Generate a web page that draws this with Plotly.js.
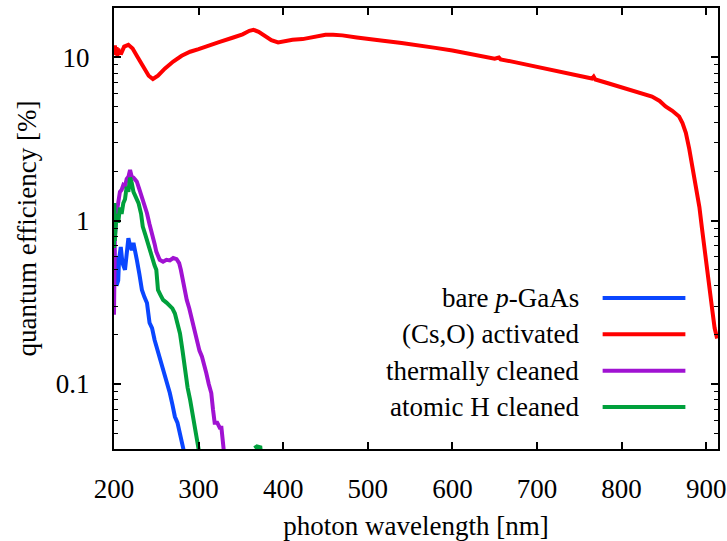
<!DOCTYPE html>
<html>
<head>
<meta charset="utf-8">
<script src="https://cdn.plot.ly/plotly-3.0.1.min.js"></script>
<style>
  html, body { margin: 0; padding: 0; background: #fff; }
  #plot { width: 727px; height: 541px; }
</style>
</head>
<body>
<div id="plot"></div>
<script>
// Quantum efficiency spectra of a GaAs photocathode surface, in percent.

// bare p-GaAs
const bareX = [200, 200.5, 201, 202, 203, 205, 206, 208, 210, 213, 215, 217, 219, 221, 223, 225, 227, 230, 233, 236, 239, 242, 245, 248, 251, 254, 257, 260, 263, 266, 269, 272, 275, 278, 280, 282, 284];
const bareY = [0.36, 0.66, 0.45, 0.6, 0.4, 0.43, 0.58, 0.69, 0.55, 0.5, 0.65, 0.78, 0.7, 0.66, 0.73, 0.66, 0.575, 0.47, 0.376, 0.34, 0.313, 0.237, 0.22, 0.186, 0.165, 0.147, 0.13, 0.117, 0.1, 0.088, 0.075, 0.063, 0.058, 0.05, 0.046, 0.042, 0.036];

// (Cs,O) activated
const csoX = [200, 201, 202, 203, 204, 205, 206, 207, 208, 210, 212, 217, 222, 228, 235, 241, 246, 252, 260, 270, 280, 290, 300, 313, 325, 341, 352, 360, 365, 371, 378, 386, 394, 402, 411, 423, 430, 439, 450, 459, 470, 487, 500, 518, 540, 557, 580, 600, 625, 650, 655, 657, 675, 700, 725, 750, 765, 767, 769, 785, 805, 820, 836, 845, 852, 860, 868, 872, 876, 880, 884, 888, 892, 895, 898, 901, 904, 907, 910, 913];
const csoY = [10.3, 11.8, 10.6, 11.5, 10.2, 11.3, 10.5, 11.0, 10.4, 11.2, 11.6, 11.9, 11.3, 10.0, 8.6, 7.7, 7.35, 7.7, 8.5, 9.4, 10.2, 10.8, 11.2, 11.9, 12.4, 13.2, 13.8, 14.5, 14.7, 14.3, 13.5, 12.7, 12.3, 12.5, 12.8, 12.9, 13.1, 13.5, 13.7, 13.7, 13.6, 13.2, 13.0, 12.6, 12.2, 11.9, 11.4, 11.0, 10.4, 9.8, 9.95, 9.7, 9.3, 8.7, 8.2, 7.7, 7.4, 7.6, 7.3, 6.9, 6.45, 6.1, 5.74, 5.4, 5.0, 4.7, 4.33, 3.95, 3.44, 2.75, 2.13, 1.6, 1.21, 0.9, 0.66, 0.5, 0.38, 0.29, 0.22, 0.19];

// thermally cleaned
const thermX = [200, 200.5, 201, 203, 205, 207, 209, 211, 213, 215, 217, 219, 221, 223, 225, 227, 230, 234, 237, 239, 242, 245, 248, 250, 252, 254, 258, 262, 266, 270, 274, 277, 279, 282, 286, 289, 292, 295, 298, 301, 304, 307, 309, 312, 315, 317, 319, 322, 325, 327, 329, 331];
const thermY = [0.265, 0.575, 0.8, 1.1, 1.3, 1.5, 1.54, 1.65, 1.62, 1.8, 1.85, 2.04, 1.85, 1.83, 1.78, 1.73, 1.55, 1.34, 1.2, 1.11, 0.95, 0.84, 0.72, 0.646, 0.6, 0.575, 0.56, 0.575, 0.57, 0.59, 0.58, 0.55, 0.5, 0.41, 0.327, 0.29, 0.247, 0.21, 0.178, 0.16, 0.147, 0.13, 0.117, 0.1, 0.088, 0.07, 0.058, 0.058, 0.054, 0.054, 0.042, 0.034];

// atomic H cleaned
const atomX = [200, 200.5, 201, 203, 205, 207, 209, 211, 213, 215, 217, 219, 221, 223, 226, 229, 232, 234, 237, 240, 243, 245, 248, 250, 252, 255, 258, 262, 266, 269, 272, 275, 278, 281, 284, 287, 290, 293, 296, 298, 300, 302, null, 366, 369, 373, 374];
const atomY = [0.68, 1.28, 0.75, 1.1, 0.97, 1.2, 1.1, 1.28, 1.35, 1.61, 1.5, 1.83, 1.7, 1.5, 1.4, 1.28, 1.1, 0.92, 0.82, 0.73, 0.64, 0.575, 0.53, 0.5, 0.376, 0.35, 0.327, 0.315, 0.3, 0.29, 0.27, 0.24, 0.204, 0.16, 0.117, 0.095, 0.08, 0.066, 0.055, 0.047, 0.04, 0.033, null, 0.0405, 0.0415, 0.041, 0.036];

const seriesNames = ['bare <i>p</i>-GaAs', '(Cs,O) activated', 'thermally cleaned', 'atomic H cleaned'];
const seriesColors = ['#0a46ff', '#ff0000', '#a012d2', '#00a03c'];
const seriesX = [bareX, csoX, thermX, atomX];
const seriesY = [bareY, csoY, thermY, atomY];

const xTicks = [200, 300, 400, 500, 600, 700, 800, 900];
const yTicks = [0.1, 1, 10];
const yTickText = ['0.1', '1', '10'];
const yMinor = [0.04, 0.05, 0.06, 0.07, 0.08, 0.09, 0.2, 0.3, 0.4, 0.5, 0.6, 0.7, 0.8, 0.9, 2, 3, 4, 5, 6, 7, 8, 9, 20];

const FONT = 'Liberation Serif';
const FS = 27;

// Draw order: blue, purple, green underneath, red on top
const order = [0, 2, 3, 1];
const traces = order.map(i => ({
  x: seriesX[i],
  y: seriesY[i],
  type: 'scatter',
  mode: 'lines',
  name: seriesNames[i],
  line: { color: seriesColors[i], width: 4 },
  connectgaps: false,
  hoverinfo: 'skip'
}));

// Key drawn inside the frame, text right-aligned to the left of each sample line
const keyTop = 0.3424, keyStep = 0.0824;
const keyX0 = 0.809, keyX1 = 0.946, keyText = 0.774;
const shapes = [];
const annotations = [];
seriesNames.forEach((name, i) => {
  const yy = keyTop - i * keyStep;
  shapes.push({
    type: 'line', xref: 'paper', yref: 'paper',
    x0: keyX0, x1: keyX1, y0: yy, y1: yy,
    line: { color: seriesColors[i], width: 4 }
  });
  annotations.push({
    xref: 'paper', yref: 'paper', x: keyText, y: yy,
    xanchor: 'right', yanchor: 'middle', showarrow: false,
    text: name, font: { family: FONT, size: FS, color: '#000' }
  });
});

const layout = {
  width: 727,
  height: 541,
  margin: { l: 114, r: 9, t: 8, b: 92 },
  paper_bgcolor: '#fff',
  plot_bgcolor: '#fff',
  showlegend: false,
  font: { family: FONT, size: FS, color: '#000' },
  xaxis: {
    range: [200, 914],
    tickmode: 'array',
    tickvals: xTicks,
    ticks: 'inside',
    ticklen: 7,
    tickwidth: 1.5,
    tickcolor: '#000',
    mirror: 'allticks',
    showline: true,
    linecolor: '#000',
    linewidth: 2,
    showgrid: false,
    zeroline: false,
    ticklabelstandoff: 15,
    tickfont: { family: FONT, size: FS, color: '#000' },
    title: { text: 'photon wavelength [nm]', font: { family: FONT, size: FS, color: '#000' }, standoff: 20 }
  },
  yaxis: {
    type: 'log',
    range: [Math.log10(0.04), Math.log10(20)],
    tickmode: 'array',
    tickvals: yTicks,
    ticktext: yTickText,
    ticks: 'inside',
    ticklen: 7,
    tickwidth: 1.5,
    tickcolor: '#000',
    mirror: 'allticks',
    showline: true,
    linecolor: '#000',
    linewidth: 2,
    showgrid: false,
    zeroline: false,
    ticklabelstandoff: 17,
    tickfont: { family: FONT, size: FS, color: '#000' },
    minor: {
      tickmode: 'array',
      tickvals: yMinor,
      ticks: 'inside',
      ticklen: 4,
      tickwidth: 1.2,
      tickcolor: '#000',
      showgrid: false
    },
    title: { text: 'quantum efficiency [%]', font: { family: FONT, size: FS, color: '#000' }, standoff: 11 }
  },
  shapes: shapes,
  annotations: annotations
};

Plotly.newPlot('plot', traces, layout, { displayModeBar: false });
</script>
</body>
</html>
